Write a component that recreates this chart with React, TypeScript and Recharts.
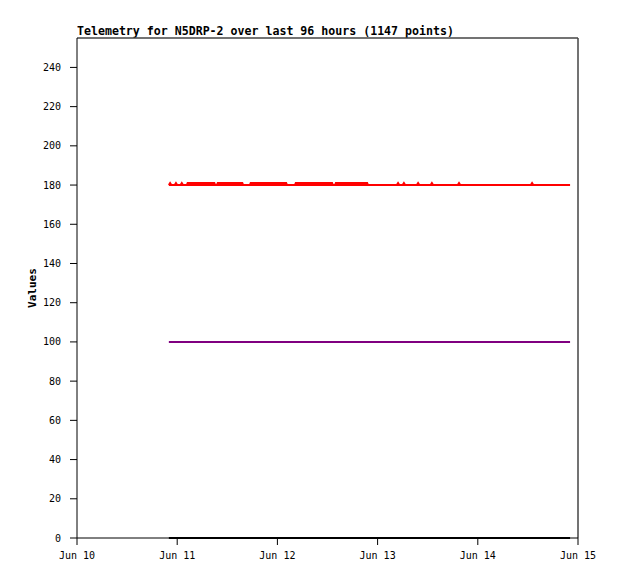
import React from "react";
import {
  LineChart,
  Line,
  XAxis,
  YAxis,
  ReferenceLine,
} from "recharts";

// hours since Jun 10 00:00
const dayTicks = [0, 24, 48, 72, 96, 120];
const dayLabels = ["Jun 10", "Jun 11", "Jun 12", "Jun 13", "Jun 14", "Jun 15"];
const valueTicks = [0, 20, 40, 60, 80, 100, 120, 140, 160, 180, 200, 220, 240];

const spanHours = [22.0, 118.1];
const redLevel = 180;
const purpleLevel = 100;
const blackLevel = 0;
const spikeTop = 181;

// stretches where the red series keeps hopping up to 181
const denseRanges: [number, number][] = [
  [26.3, 33.1],
  [33.5, 39.8],
  [41.4, 50.3],
  [52.2, 61.3],
  [61.8, 69.7],
];
// lone red blips
const singleSpikes = [22.3, 23.7, 25.1, 76.9, 78.3, 81.7, 85.0, 91.5, 109.0];

type Pt = { h: number; v: number | null };

const flat = (level: number): Pt[] => spanHours.map((h) => ({ h, v: level }));

const buildSpikes = (): Pt[] => {
  const segs: Pt[][] = [];
  denseRanges.forEach(([a, b]) => {
    segs.push([
      { h: a, v: redLevel },
      { h: a + 0.2, v: spikeTop },
      { h: b - 0.2, v: spikeTop },
      { h: b, v: redLevel },
    ]);
  });
  singleSpikes.forEach((h) => {
    segs.push([
      { h: h - 0.3, v: redLevel },
      { h, v: spikeTop },
      { h: h + 0.3, v: redLevel },
    ]);
  });
  segs.sort((p, q) => p[0].h - q[0].h);
  const out: Pt[] = [];
  segs.forEach((s) => {
    out.push(...s);
    out.push({ h: s[s.length - 1].h + 0.01, v: null });
  });
  return out;
};

const mono = "'DejaVu Sans Mono', 'Liberation Mono', monospace";

export default function App() {
  const tickStyle = { fontFamily: mono, fontSize: 10, fill: "#000" };
  return (
    <div style={{ position: "absolute", left: 0, top: 0, width: 618, height: 579, background: "#fff" }}>
      <div
        style={{
          position: "absolute",
          left: 77,
          top: 24,
          fontFamily: mono,
          fontWeight: "bold",
          fontSize: 11.6,
          lineHeight: "14px",
          whiteSpace: "nowrap",
          color: "#000",
        }}
      >
        Telemetry for N5DRP-2 over last 96 hours (1147 points)
      </div>
      <LineChart
        width={618}
        height={579}
        margin={{ top: 38, right: 40, bottom: 11, left: 0 }}
      >
        <XAxis
          dataKey="h"
          type="number"
          domain={[0, 120]}
          ticks={dayTicks}
          tickFormatter={(v: number) => dayLabels[dayTicks.indexOf(v)] ?? ""}
          height={30}
          tickSize={7}
          tickMargin={7}
          stroke="#000"
          tick={tickStyle}
          interval={0}
        />
        <YAxis
          type="number"
          domain={[0, 255]}
          ticks={valueTicks}
          width={77}
          tickSize={7}
          tickMargin={9}
          stroke="#000"
          tick={tickStyle}
          interval={0}
          label={{
            value: "Values",
            angle: -90,
            position: "insideLeft",
            offset: 32,
            style: { fontFamily: mono, fontWeight: "bold", fontSize: 11, fill: "#000", textAnchor: "middle" },
          }}
        />
        <ReferenceLine y={255} stroke="#444" strokeWidth={1.5} />
        <ReferenceLine x={120} stroke="#444" strokeWidth={1.5} />
        <Line
          data={flat(purpleLevel)}
          dataKey="v"
          stroke="#800080"
          strokeWidth={2}
          dot={false}
          isAnimationActive={false}
        />
        <Line
          data={flat(redLevel)}
          dataKey="v"
          stroke="#ff0000"
          strokeWidth={2}
          dot={false}
          isAnimationActive={false}
        />
        <Line
          data={buildSpikes()}
          dataKey="v"
          stroke="#ff0000"
          strokeWidth={2}
          dot={false}
          connectNulls={false}
          isAnimationActive={false}
        />
        <Line
          data={flat(blackLevel)}
          dataKey="v"
          stroke="#000"
          strokeWidth={2}
          dot={false}
          isAnimationActive={false}
        />
      </LineChart>
    </div>
  );
}
